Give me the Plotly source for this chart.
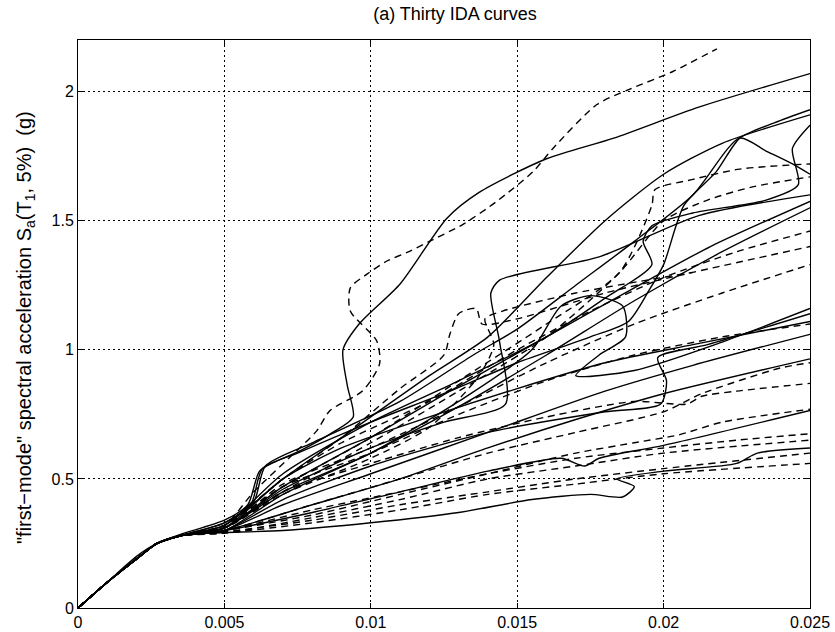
import plotly.graph_objects as go

# Interstory drift values are written in units of 1e-3 (per mille) and scaled below.
DRIFT_UNIT = 1e-3

x_ticks = [0, 0.005, 0.01, 0.015, 0.02, 0.025]
x_tick_labels = ["0", "0.005", "0.01", "0.015", "0.02", "0.025"]
y_ticks = [0, 0.5, 1, 1.5, 2]
y_tick_labels = ["0", "0.5", "1", "1.5", "2"]

# ---- solid IDA curves (drift in 1e-3, Sa in g) ----
s1_x = [0, 1, 2, 2.7, 3.5, 5, 5.8, 6.2, 6.8, 7.6, 8.7, 9.4, 9.2, 9.05, 9.6, 11, 12.6, 13.7, 16, 18.3, 21.2, 25]
s1_y = [0, 0.1, 0.19, 0.25, 0.285, 0.34, 0.4, 0.53, 0.57, 0.61, 0.68, 0.74, 0.86, 1.0, 1.1, 1.255, 1.51, 1.61, 1.74, 1.82, 1.94, 2.07]

s2_x = [0, 1, 2, 2.7, 3.5, 5, 5.9, 6.3, 7.5, 10, 12.7, 15, 17.5, 18.8, 19.5, 20, 20.7, 21.8, 22.6, 23.8, 25]
s2_y = [0, 0.1, 0.19, 0.25, 0.28, 0.33, 0.4, 0.54, 0.6, 0.72, 0.84, 0.95, 1.05, 1.11, 1.23, 1.33, 1.56, 1.69, 1.82, 1.88, 1.93]

s3_x = [0, 1, 2, 2.7, 3.5, 5, 6, 6.4, 8, 11, 13.5, 15, 17, 19, 21, 22.6, 23.5, 24.4, 25]
s3_y = [0, 0.1, 0.19, 0.25, 0.28, 0.33, 0.41, 0.55, 0.64, 0.8, 0.98, 1.08, 1.25, 1.42, 1.6, 1.82, 1.77, 1.72, 1.68]

s4_x = [0, 1, 2, 2.7, 3.5, 5, 7, 10, 13, 16, 18, 19.6, 19.3, 19.6, 21, 23.5, 24.6, 24.4, 25]
s4_y = [0, 0.1, 0.2, 0.25, 0.28, 0.32, 0.52, 0.72, 0.88, 1.05, 1.2, 1.33, 1.42, 1.48, 1.53, 1.58, 1.64, 1.78, 1.87]

s5_x = [0, 1, 2, 2.7, 3.5, 5, 7, 9, 12, 14, 16, 18, 20, 22, 25]
s5_y = [0, 0.1, 0.19, 0.25, 0.28, 0.32, 0.5, 0.66, 0.9, 1.05, 1.28, 1.5, 1.68, 1.8, 1.91]

s6_x = [0, 1, 2, 2.7, 3.5, 5, 7, 9, 12, 15, 18, 21, 25]
s6_y = [0, 0.1, 0.19, 0.25, 0.28, 0.31, 0.5, 0.62, 0.74, 0.85, 0.95, 1.02, 1.11]

s7_x = [0, 1, 2, 2.7, 3.5, 5, 7, 10, 12.5, 14.6, 14.4, 14.1, 14.4, 17.8, 21.2, 25]
s7_y = [0, 0.1, 0.19, 0.25, 0.28, 0.31, 0.46, 0.62, 0.72, 0.79, 1.03, 1.22, 1.27, 1.36, 1.52, 1.6]

s8_x = [0, 1, 2, 2.7, 3.5, 5, 7, 10, 12.7, 16, 19, 21.6, 25]
s8_y = [0, 0.1, 0.19, 0.25, 0.28, 0.31, 0.47, 0.66, 0.84, 1.05, 1.24, 1.4, 1.575]

s9_x = [0, 1, 2, 2.7, 3.5, 5, 7, 10, 13, 16, 19, 22, 25]
s9_y = [0, 0.1, 0.19, 0.25, 0.28, 0.3, 0.44, 0.6, 0.78, 0.98, 1.19, 1.38, 1.55]

s10_x = [0, 1, 2, 2.7, 3.5, 5, 7, 10, 13, 15.5, 16.5, 17.5, 18.6, 18.7, 17.8, 17, 19, 22, 25]
s10_y = [0, 0.1, 0.19, 0.25, 0.28, 0.31, 0.45, 0.6, 0.8, 1.0, 1.17, 1.21, 1.17, 1.05, 0.98, 0.9, 0.92, 1.03, 1.16]

s11_x = [0, 1, 2, 2.7, 3.5, 5, 7, 10, 14, 18, 19.9, 20.1, 19.8, 21.5, 25]
s11_y = [0, 0.1, 0.19, 0.25, 0.28, 0.3, 0.42, 0.55, 0.68, 0.76, 0.79, 0.88, 0.97, 1.02, 1.14]

s12_x = [0, 1, 2, 2.7, 3.5, 5, 7, 10, 14, 18, 21, 25]
s12_y = [0, 0.1, 0.19, 0.25, 0.28, 0.3, 0.4, 0.52, 0.68, 0.84, 0.94, 1.06]

s13_x = [0, 1, 2, 2.7, 3.5, 5, 8, 11, 14, 17, 20, 25]
s13_y = [0, 0.1, 0.19, 0.25, 0.28, 0.3, 0.4, 0.5, 0.62, 0.73, 0.83, 0.965]

s14_x = [0, 1, 2, 2.7, 3.5, 5, 8, 11, 14, 16.5, 17.3, 17.8, 20, 25]
s14_y = [0, 0.1, 0.19, 0.25, 0.28, 0.3, 0.37, 0.45, 0.53, 0.58, 0.55, 0.58, 0.63, 0.765]

s15_x = [0, 1, 2, 2.7, 3.5, 4.5, 7, 10, 13, 15.5, 17.5, 18.6, 19.0, 18.4, 20, 22.5, 23.2, 25]
s15_y = [0, 0.1, 0.19, 0.25, 0.28, 0.29, 0.3, 0.33, 0.37, 0.42, 0.44, 0.43, 0.47, 0.5, 0.53, 0.56, 0.6, 0.62]

# ---- dashed IDA curves ----
d1_x = [0, 1, 2, 2.7, 3.5, 5, 6, 7.2, 8.16, 8.6, 9.73, 10.3, 10.2, 9.3, 9.3, 9.87, 10.55, 11.34, 12, 13.15, 14.3, 15.54, 16.22, 17.72, 18.85, 20.3, 21.82]
d1_y = [0, 0.1, 0.19, 0.25, 0.28, 0.32, 0.45, 0.58, 0.687, 0.764, 0.842, 0.946, 1.035, 1.15, 1.24, 1.293, 1.344, 1.382, 1.42, 1.486, 1.575, 1.69, 1.78, 1.95, 2.01, 2.077, 2.166]

d2_x = [0, 1, 2, 2.7, 3.5, 5, 7, 10, 13, 16, 18.5, 19.6, 19.7, 21, 22.6, 25]
d2_y = [0, 0.1, 0.19, 0.25, 0.28, 0.31, 0.47, 0.66, 0.88, 1.1, 1.3, 1.56, 1.62, 1.66, 1.7, 1.72]

d3_x = [0, 1, 2, 2.7, 3.5, 5, 7, 10, 13, 16, 18.5, 20, 21.5, 23, 25]
d3_y = [0, 0.1, 0.19, 0.25, 0.28, 0.31, 0.45, 0.64, 0.84, 1.05, 1.3, 1.5, 1.58, 1.63, 1.67]

d4_x = [0, 1, 2, 2.7, 3.5, 5, 7, 9, 12, 15, 17.5, 20, 22.5, 25]
d4_y = [0, 0.1, 0.19, 0.25, 0.28, 0.32, 0.5, 0.64, 0.8, 1.0, 1.15, 1.28, 1.38, 1.46]

d5_x = [0, 1, 2, 2.7, 3.5, 5, 7, 10, 13, 16, 19, 22, 25]
d5_y = [0, 0.1, 0.19, 0.25, 0.28, 0.31, 0.48, 0.62, 0.78, 0.95, 1.1, 1.22, 1.33]

d6_x = [0, 1, 2, 2.7, 3.5, 5, 7, 9, 11, 12.5, 12.7, 13, 13.6, 13.8, 15, 18, 21, 25]
d6_y = [0, 0.1, 0.19, 0.25, 0.28, 0.32, 0.5, 0.66, 0.85, 0.98, 1.06, 1.14, 1.16, 1.1, 1.12, 1.22, 1.3, 1.4]

d7_x = [0, 1, 2, 2.7, 3.5, 5, 7, 10, 13, 16, 19, 20.8, 21.3, 22.5, 25]
d7_y = [0, 0.1, 0.19, 0.25, 0.28, 0.31, 0.45, 0.56, 0.66, 0.74, 0.8, 0.79, 0.82, 0.84, 0.87]

d8_x = [0, 1, 2, 2.7, 3.5, 5, 8, 11, 14, 17, 20, 22.5, 25]
d8_y = [0, 0.1, 0.19, 0.25, 0.28, 0.3, 0.38, 0.45, 0.52, 0.58, 0.62, 0.65, 0.675]

d9_x = [0, 1, 2, 2.7, 3.5, 5, 8, 11, 14, 17, 20, 25]
d9_y = [0, 0.1, 0.19, 0.25, 0.28, 0.29, 0.35, 0.42, 0.5, 0.55, 0.6, 0.65]

d10_x = [0, 1, 2, 2.7, 3.5, 5, 8, 11, 14, 17, 20, 25]
d10_y = [0, 0.1, 0.19, 0.25, 0.28, 0.29, 0.33, 0.38, 0.44, 0.48, 0.52, 0.56]

d11_x = [0, 1, 2, 2.7, 3.5, 5, 8, 11, 14, 17, 20, 25]
d11_y = [0, 0.1, 0.19, 0.25, 0.28, 0.295, 0.34, 0.4, 0.45, 0.5, 0.54, 0.6]

d12_x = [0, 1, 2, 2.7, 3.5, 5, 7, 10, 13, 16, 19, 22, 25]
d12_y = [0, 0.1, 0.19, 0.25, 0.28, 0.32, 0.47, 0.6, 0.75, 0.88, 0.98, 1.05, 1.1]

d13_x = [0, 1, 2, 2.7, 3.5, 5, 7, 10, 12, 13.7, 14.2, 13.9, 14.5, 17, 21]
d13_y = [0, 0.1, 0.19, 0.25, 0.28, 0.31, 0.44, 0.58, 0.7, 0.9, 1.02, 1.12, 1.15, 1.22, 1.3]

d14_x = [0, 1, 2, 2.7, 3.5, 5, 8, 11, 14, 17, 19, 20.5, 22, 25]
d14_y = [0, 0.1, 0.19, 0.25, 0.28, 0.3, 0.36, 0.44, 0.52, 0.6, 0.64, 0.67, 0.72, 0.77]

d15_x = [0, 1, 2, 2.7, 3.5, 5, 8, 11, 14, 17, 20, 21.3, 24, 25]
d15_y = [0, 0.1, 0.19, 0.25, 0.28, 0.3, 0.4, 0.5, 0.6, 0.68, 0.76, 0.83, 0.93, 0.95]

solid_curves = [
    (s1_x, s1_y), (s2_x, s2_y), (s3_x, s3_y), (s4_x, s4_y), (s5_x, s5_y),
    (s6_x, s6_y), (s7_x, s7_y), (s8_x, s8_y), (s9_x, s9_y), (s10_x, s10_y),
    (s11_x, s11_y), (s12_x, s12_y), (s13_x, s13_y), (s14_x, s14_y), (s15_x, s15_y),
]
dashed_curves = [
    (d1_x, d1_y), (d2_x, d2_y), (d3_x, d3_y), (d4_x, d4_y), (d5_x, d5_y),
    (d6_x, d6_y), (d7_x, d7_y), (d8_x, d8_y), (d9_x, d9_y), (d10_x, d10_y),
    (d11_x, d11_y), (d12_x, d12_y), (d13_x, d13_y), (d14_x, d14_y), (d15_x, d15_y),
]

fig = go.Figure()
for xs, ys in solid_curves:
    fig.add_trace(go.Scatter(
        x=[v * DRIFT_UNIT for v in xs], y=ys, mode="lines",
        line=dict(color="black", width=1.4, shape="spline", smoothing=0.7),
        showlegend=False, hoverinfo="skip"))
for xs, ys in dashed_curves:
    fig.add_trace(go.Scatter(
        x=[v * DRIFT_UNIT for v in xs], y=ys, mode="lines",
        line=dict(color="black", width=1.4, dash="7px,5px", shape="spline", smoothing=0.7),
        showlegend=False, hoverinfo="skip"))

font_family = "Liberation Sans, Arial, sans-serif"
axis_common = dict(
    showline=True, linecolor="black", linewidth=1, mirror="ticks",
    ticks="inside", ticklen=5, tickcolor="black",
    showgrid=True, gridcolor="black", gridwidth=1, griddash="1.5px,3.5px",
    zeroline=False, automargin=False,
    tickfont=dict(family=font_family, size=16, color="black"),
)
fig.update_xaxes(range=[0, 0.025], tickvals=x_ticks, ticktext=x_tick_labels, **axis_common)
fig.update_yaxes(range=[0, 2.2], tickvals=y_ticks, ticktext=y_tick_labels, **axis_common)

fig.update_layout(
    width=835, height=632,
    margin=dict(l=78, r=25, t=40, b=24, autoexpand=False),
    paper_bgcolor="white", plot_bgcolor="white",
    font=dict(family=font_family, size=16, color="black"),
    title=dict(text="(a) Thirty IDA curves", x=455 / 835, xanchor="center",
               y=1 - 7 / 632, yanchor="top", automargin=False,
               font=dict(family=font_family, size=18, color="black")),
    annotations=[dict(
        text='"first\u2212mode" spectral acceleration S<sub>a</sub>(T<sub>1</sub>, 5%)  (g)',
        xref="paper", yref="paper", x=(25 - 78) / 732, y=(608 - 328) / 568,
        textangle=-90, showarrow=False, xanchor="center", yanchor="middle",
        font=dict(family=font_family, size=20, color="black"))],
)

# Remove the default page margin so the 835x632 figure fills the window exactly.
fig.write_html(
    "out.html",
    config={"displayModeBar": False},
    post_script="document.body.style.margin='0';document.documentElement.style.overflow='hidden';",
)
